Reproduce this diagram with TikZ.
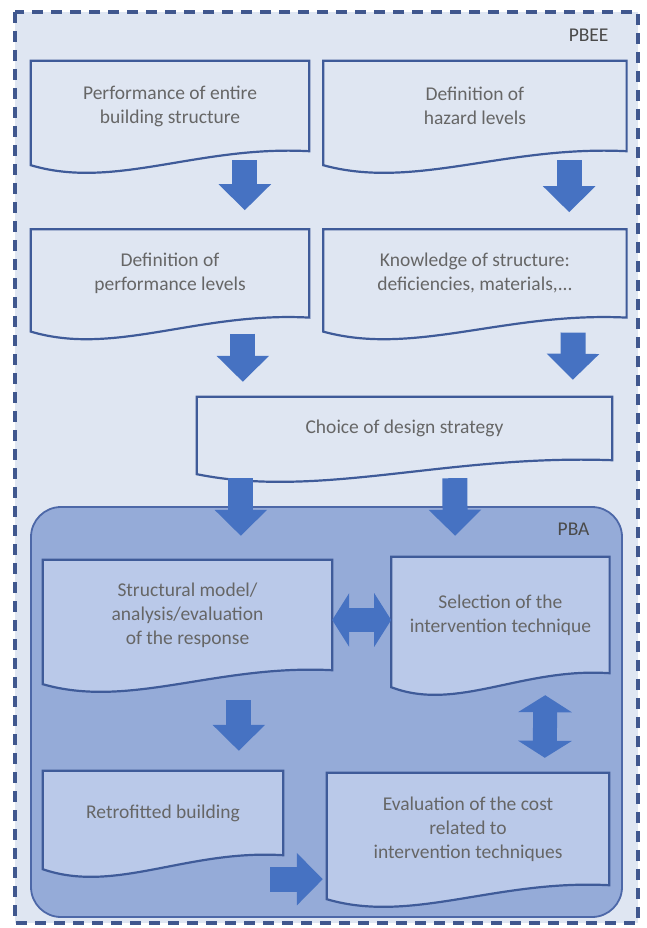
\documentclass[tikz,border=0pt]{standalone}
\usepackage{fontspec}
\setmainfont{Carlito}
\usetikzlibrary{positioning,calc,arrows.meta}

\definecolor{bgblue}{HTML}{DFE6F2}
\definecolor{dashcol}{HTML}{40578E}
\definecolor{pbafill}{HTML}{95ABD8}
\definecolor{pbaline}{HTML}{4D68A8}
\definecolor{docfill}{HTML}{BAC9E9}
\definecolor{boxline}{HTML}{3F5B99}
\definecolor{arrowblue}{HTML}{4672C2}
\definecolor{textgray}{HTML}{666666}
\definecolor{labelgray}{HTML}{4A4A4A}

\pgfdeclarelayer{background}
\pgfdeclarelayer{docs}
\pgfsetlayers{background,docs,main}

% document shape with a wavy bottom, drawn round a named node
\newcommand{\docshape}[2][]{%
  \path[docline,#1] (#2.north west) -- (#2.north east) -- (#2.south east)
    .. controls ($(#2.south east)!0.4!(#2.south west)+(0,-6)$)
    and ($(#2.south east)!0.7!(#2.south west)+(0,39)$)
    .. ($(#2.south west)+(0,14)$) -- cycle;}

\tikzset{
  box/.style={inner sep=0pt, align=center, text=textgray, font=\fontsize{19.5}{24}\selectfont},
  docline/.style={draw=boxline, line width=2.2pt, fill=bgblue, line join=miter},
  indoc/.style={fill=docfill},
  bigarrow/.style={draw=arrowblue, line width=25pt, -{Triangle[width=51pt,length=26pt]}},
  twoway/.style={draw=arrowblue, line width=24pt, {Triangle[width=53pt,length=17pt]}-{Triangle[width=53pt,length=17pt]}},
  tag/.style={anchor=east, text=labelgray, font=\fontsize{19.5}{20}\selectfont},
}

\begin{document}
\begin{tikzpicture}[x=1pt,y=-1pt]
\useasboundingbox (0,0) rectangle (647,928);

% frames
\begin{pgfonlayer}{background}
\draw[draw=dashcol, fill=bgblue, line width=3.2pt, dash pattern=on 11pt off 8pt] (15,12) rectangle (638,923);
\draw[draw=pbaline, fill=pbafill, line width=1.8pt, rounded corners=30pt] (31,507) rectangle (622,917);
\end{pgfonlayer}

\node[tag] (pbee) at (612,35) {PBEE};
\node[tag] (pba) at (593,529) {PBA};

% boxes
\node[box, minimum width=278pt, minimum height=90pt] (perf) at (170,106) {Performance of entire\\building structure};
\node[box, minimum width=303pt, minimum height=90pt, right=14pt of perf] (hazard) {Definition of\\hazard levels};
\node[box, minimum width=278pt, minimum height=88pt, below=78pt of perf] (perflev) {Definition of\\performance levels};
\node[box, minimum width=303pt, minimum height=88pt, right=14pt of perflev] (knowledge) {Knowledge of structure:\\deficiencies, materials,...};
\node[box, minimum width=415pt, minimum height=63pt] (choice) at (404.5,428.5) {Choice of design strategy};
\node[box, minimum width=289pt, minimum height=110pt] (model) at (187.5,615) {Structural model/\\analysis/evaluation\\of the response};
\node[box, minimum width=218pt, minimum height=116pt, right=59pt of model] (select) {Selection of the\\intervention technique};
\node[box, minimum width=240pt, minimum height=84pt] (retro) at (163,813) {Retrofitted building};
\node[box, minimum width=282pt, minimum height=112pt] (cost) at (468,829) {Evaluation of the cost\\related to\\intervention techniques};

\begin{pgfonlayer}{docs}
\foreach \n in {perf,hazard,perflev,knowledge,choice} \docshape{\n};
\foreach \n in {model,select,retro,cost} \docshape[indoc]{\n};
\end{pgfonlayer}

% arrows
\draw[bigarrow] ($(perf.south west)+(214,9)$) -- ($(perflev.north west)+(214,-19)$);
\draw[bigarrow] ($(hazard.south west)+(246,9)$) -- ($(knowledge.north west)+(246,-17)$);
\draw[bigarrow] ($(perflev.south west)+(212,16)$) -- ($(choice.north west)+(46,-15)$);
\draw[bigarrow] ($(knowledge.south west)+(250,15)$) -- ($(choice.north west)+(376,-17)$);
\draw[bigarrow] ($(choice.south west)+(44,18)$) -- ($(model.north west)+(198,-24)$);
\draw[bigarrow] ($(choice.south west)+(258,18)$) -- ($(select.north west)+(64,-21)$);
\draw[bigarrow] ($(model.south west)+(196,30)$) -- ($(retro.north west)+(196,-20)$);
\draw[bigarrow] ($(retro.south east)+(-13,24)$) -- ($(cost.south west)+(-4,-6)$);
\draw[twoway] ($(model.east)+(0,5)$) -- ($(select.west)+(0,5)$);
\draw[twoway] ($(select.south west)+(154,22)$) -- ($(cost.north west)+(218,-15)$);
\end{tikzpicture}
\end{document}
